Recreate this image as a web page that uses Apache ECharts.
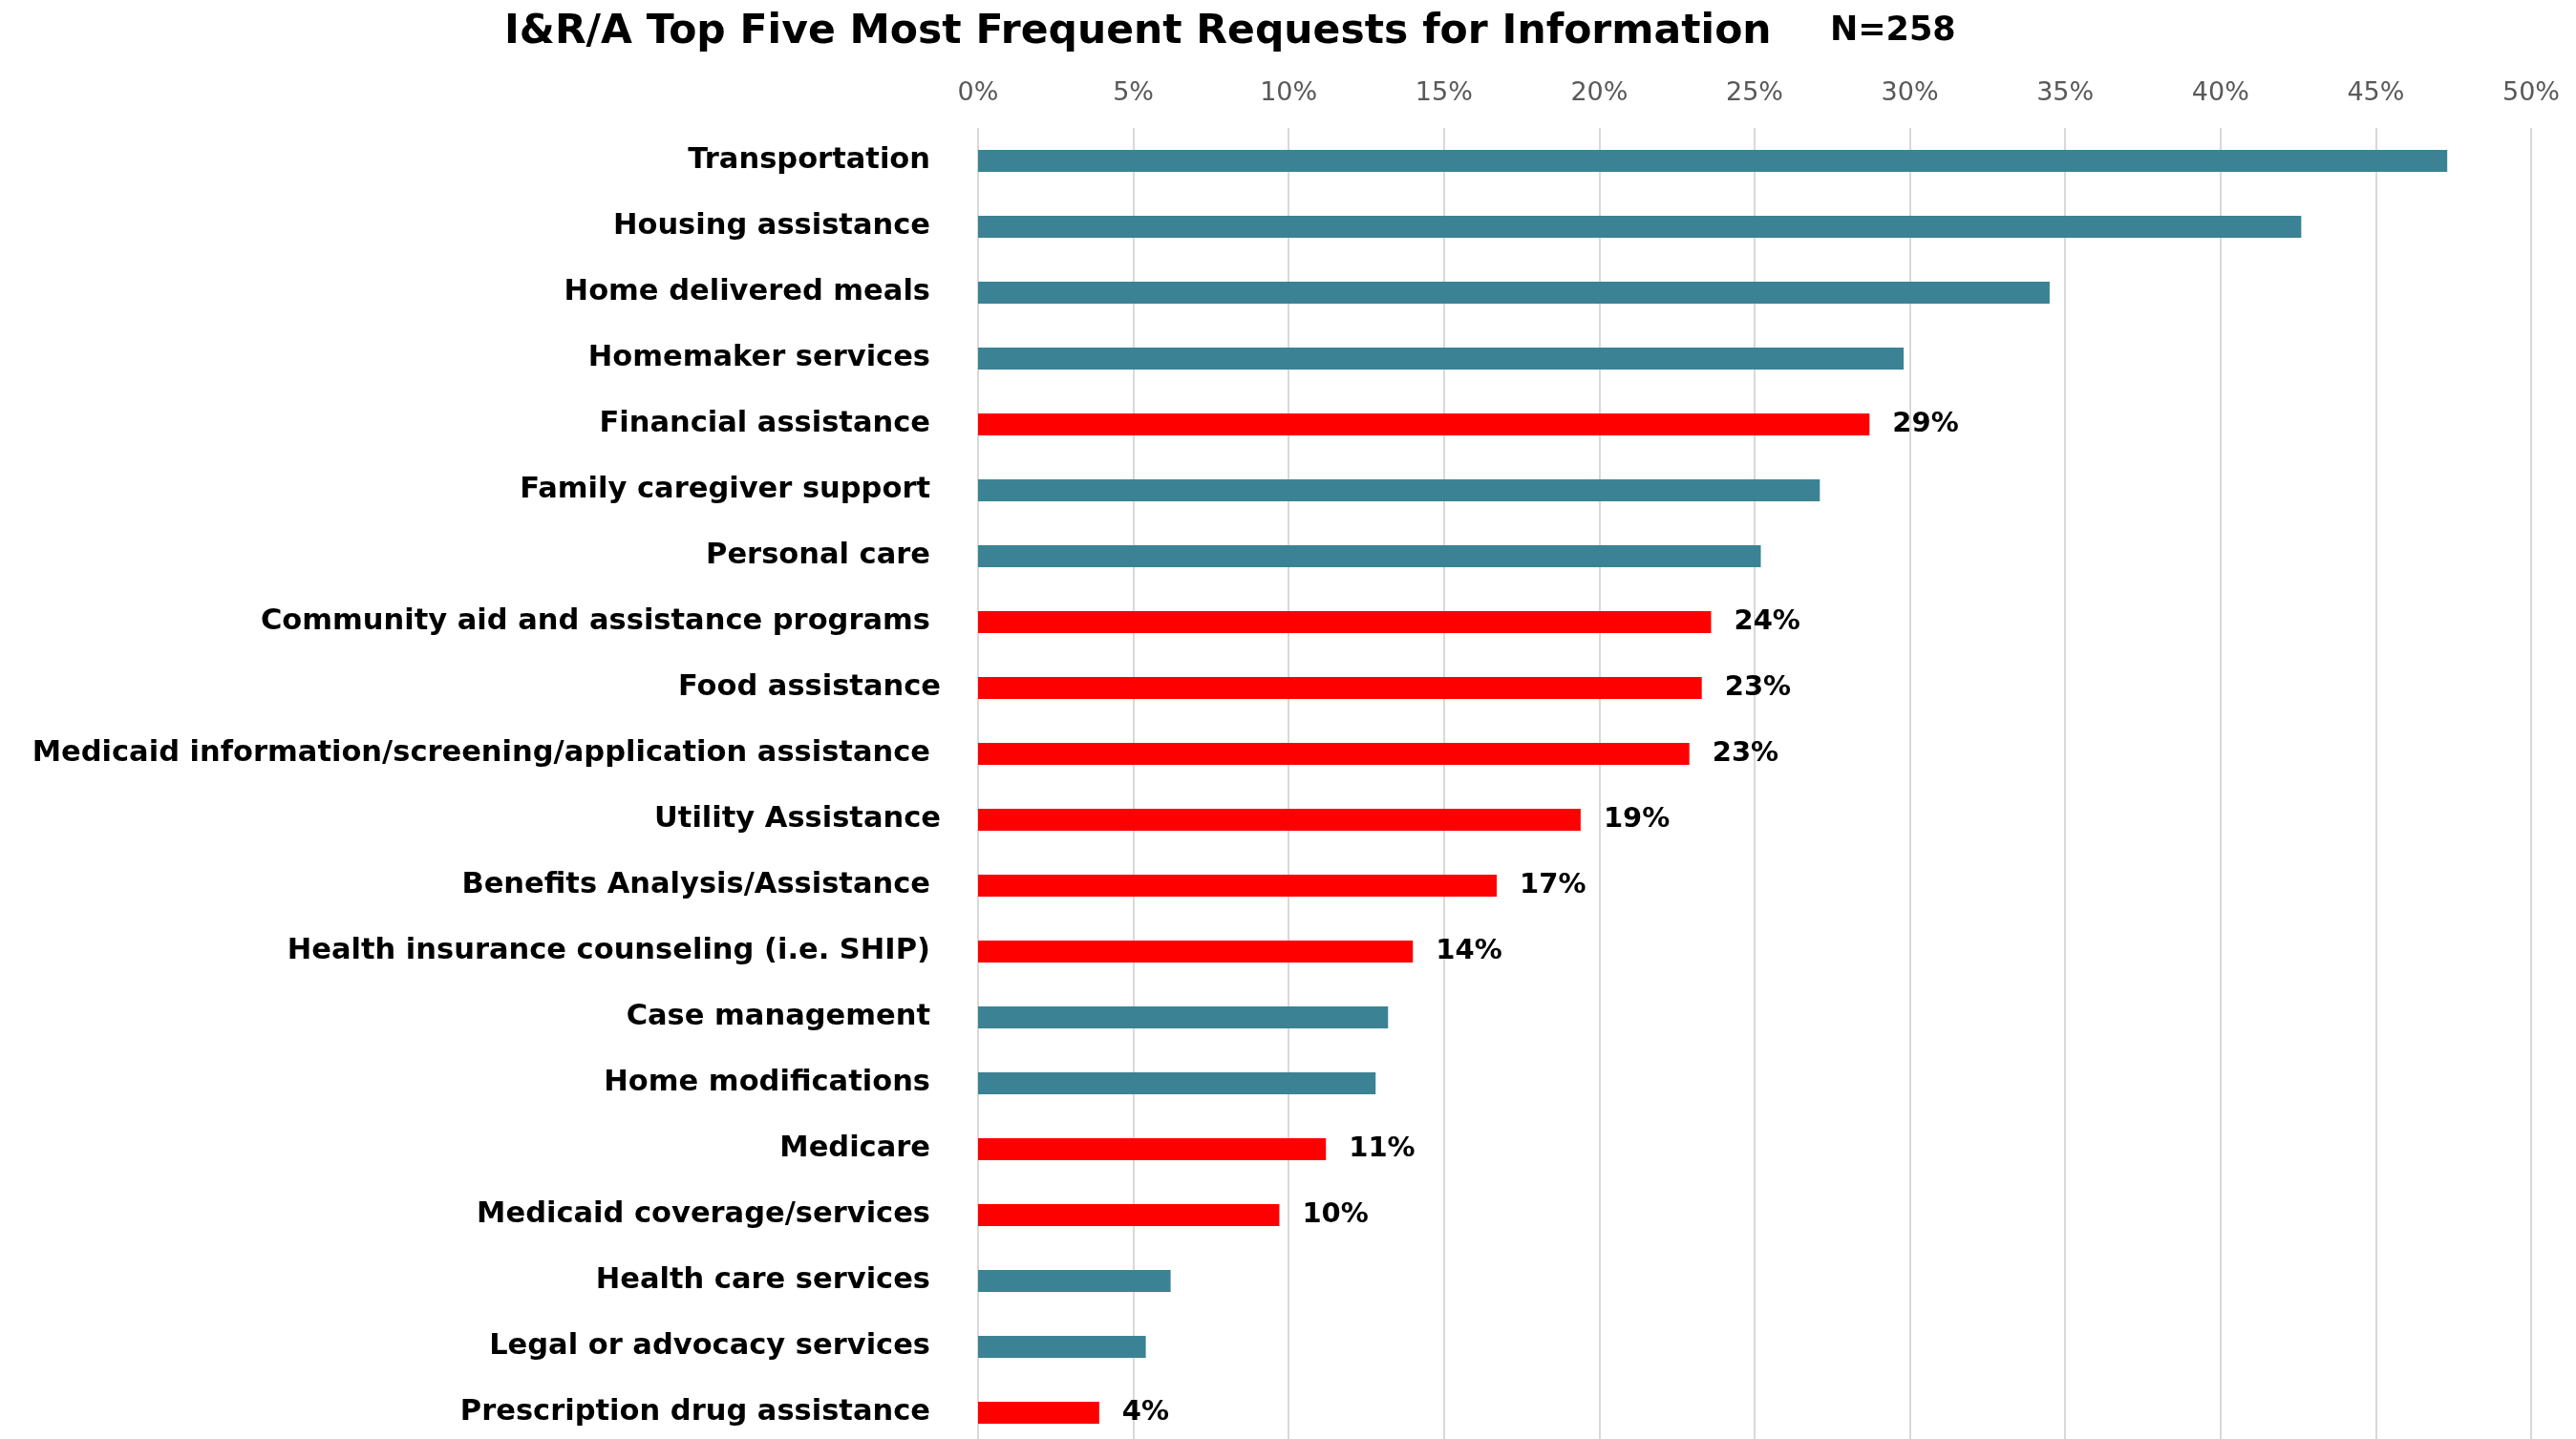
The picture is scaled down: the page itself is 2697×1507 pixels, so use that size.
<!DOCTYPE html>
<html>
<head>
<meta charset="utf-8">
<script src="https://cdn.jsdelivr.net/npm/echarts@6/dist/echarts.min.js"></script>
<style>
  html, body { margin: 0; padding: 0; background: #ffffff; }
  #chart { width: 2697px; height: 1507px; }
</style>
</head>
<body>
<div id="chart"></div>
<script>
// ---- data ----
const titleMain = 'I&R/A Top Five Most Frequent Requests for Information';
const titleN = 'N=258';
const categories = [
  'Transportation',
  'Housing assistance',
  'Home delivered meals',
  'Homemaker services',
  'Financial assistance',
  'Family caregiver support',
  'Personal care',
  'Community aid and assistance programs',
  'Food assistance',
  'Medicaid information/screening/application assistance',
  'Utility Assistance',
  'Benefits Analysis/Assistance',
  'Health insurance counseling (i.e. SHIP)',
  'Case management',
  'Home modifications',
  'Medicare',
  'Medicaid coverage/services',
  'Health care services',
  'Legal or advocacy services',
  'Prescription drug assistance'
];
const values = [47.3, 42.6, 34.5, 29.8, 28.7, 27.1, 25.2, 23.6, 23.3, 22.9,
                19.4, 16.7, 14.0, 13.2, 12.8, 11.2, 9.7, 6.2, 5.4, 3.9];
const highlighted = [
  'Financial assistance',
  'Community aid and assistance programs',
  'Food assistance',
  'Medicaid information/screening/application assistance',
  'Utility Assistance',
  'Benefits Analysis/Assistance',
  'Health insurance counseling (i.e. SHIP)',
  'Medicare',
  'Medicaid coverage/services',
  'Prescription drug assistance'
];
const tickValues = [0, 5, 10, 15, 20, 25, 30, 35, 40, 45, 50];

// ---- style ----
const TEAL = '#3B8295';
const RED = '#FF0000';
const FONT = 'DejaVu Sans';
const noTrailingSpace = ['Food assistance', 'Utility Assistance'];

const seriesData = categories.map((c, i) => {
  const hl = highlighted.indexOf(c) >= 0;
  return {
    value: values[i],
    itemStyle: { color: hl ? RED : TEAL },
    label: { show: hl }
  };
});

const chart = echarts.init(document.getElementById('chart'), null, { renderer: 'canvas' });
chart.setOption({
  animation: false,
  backgroundColor: '#ffffff',
  title: [
    {
      text: titleMain, left: 523, top: 7,
      textStyle: { fontFamily: FONT, fontWeight: 'bold', fontSize: 42.5, color: '#000' }
    },
    {
      text: titleN, left: 1911, top: 10,
      textStyle: { fontFamily: FONT, fontWeight: 'bold', fontSize: 35, color: '#000' }
    }
  ],
  grid: { left: 1024, right: 47, top: 134, height: 1380, containLabel: false, outerBoundsMode: 'none' },
  xAxis: {
    type: 'value',
    position: 'top',
    min: tickValues[0],
    max: tickValues[tickValues.length - 1],
    interval: 5,
    axisLine: { show: false },
    axisTick: { show: false },
    axisLabel: {
      formatter: '{value}%',
      fontFamily: FONT, fontSize: 27, color: '#595959', margin: 23
    },
    splitLine: { show: true, lineStyle: { color: '#d9d9d9', width: 2 } }
  },
  yAxis: {
    type: 'category',
    inverse: true,
    data: categories,
    axisLine: { show: false },
    axisTick: { show: false },
    axisLabel: {
      margin: 39,
      formatter: function (v) {
        return noTrailingSpace.indexOf(v) >= 0 ? '{n|' + v + '}' : '{p|' + v + '}';
      },
      rich: {
        p: { fontFamily: FONT, fontWeight: 'bold', fontSize: 30.5, color: '#000', padding: [0, 11, 0, 0] },
        n: { fontFamily: FONT, fontWeight: 'bold', fontSize: 30.5, color: '#000' }
      }
    }
  },
  series: [{
    type: 'bar',
    data: seriesData,
    barWidth: 23,
    label: {
      position: 'right',
      distance: 24,
      fontFamily: FONT, fontWeight: 'bold', fontSize: 29, color: '#000',
      formatter: function (p) { return Math.round(p.value) + '%'; }
    }
  }]
});
</script>
</body>
</html>
